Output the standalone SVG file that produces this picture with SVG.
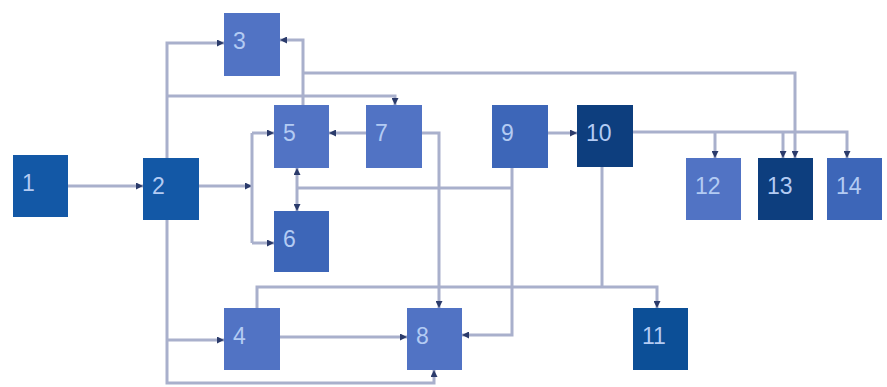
<svg xmlns="http://www.w3.org/2000/svg" width="887" height="387" viewBox="0 0 887 387">
<defs>
<marker id="ah" markerWidth="7" markerHeight="7" refX="7" refY="3.5" orient="auto" markerUnits="userSpaceOnUse">
<path d="M0,0 L7,3.5 L0,7 z" fill="#2b3b6b"/>
</marker>
<style>
.c{fill:none;stroke:#a9b0cc;stroke-width:3}
.a{marker-end:url(#ah)}
.n rect{stroke:none}
.n text{font-family:"Liberation Sans","Open Sans",Arial,sans-serif;font-size:23px;fill:#b3cbf3}
.d1{fill:#1358a6}
.d2{fill:#0d3e7e}
.d3{fill:#0c4f97}
.m{fill:#3d66b8}
.l{fill:#5173c4}
</style>
</defs>
<rect width="887" height="387" fill="#ffffff"/>
<g id="connectors">
<path class="c a" d="M67,186 H143"/>
<path class="c a" d="M167,158 V43 H224"/>
<path class="c a" d="M167,96 H395 V105"/>
<path class="c a" d="M303,105 V40 H280"/>
<path class="c a" d="M303,73 H795 V158"/>
<path class="c a" d="M199,186 H252"/>
<path class="c" d="M252,133 V243"/>
<path class="c a" d="M252,133 H274"/>
<path class="c a" d="M252,243 H274"/>
<path class="c a" d="M366,133 H329"/>
<path class="c a" d="M512,168 V335 H462"/>
<path class="c" d="M512,188 H297"/>
<path class="c a" d="M297,188 V168"/>
<path class="c a" d="M297,188 V211"/>
<path class="c a" d="M422,133 H439 V308"/>
<path class="c a" d="M548,133 H577"/>
<path class="c a" d="M633,132 H847 V158"/>
<path class="c a" d="M715,132 V158"/>
<path class="c a" d="M783,132 V158"/>
<path class="c" d="M602,167 V287"/>
<path class="c a" d="M257,308 V287 H657 V308"/>
<path class="c a" d="M167,220 V383 H434 V370"/>
<path class="c a" d="M167,340 H224"/>
<path class="c a" d="M280,337 H407"/>
</g>
<g id="n1" class="n"><rect class="d1" x="13" y="155" width="55" height="62"/><text x="22" y="191">1</text></g>
<g id="n2" class="n"><rect class="d1" x="143" y="158" width="56" height="62"/><text x="152" y="194">2</text></g>
<g id="n3" class="n"><rect class="l" x="224" y="13" width="56" height="63"/><text x="233" y="49">3</text></g>
<g id="n4" class="n"><rect class="l" x="224" y="308" width="56" height="62"/><text x="233" y="344">4</text></g>
<g id="n5" class="n"><rect class="l" x="274" y="105" width="55" height="63"/><text x="283" y="141">5</text></g>
<g id="n6" class="n"><rect class="m" x="274" y="211" width="55" height="61"/><text x="283" y="247">6</text></g>
<g id="n7" class="n"><rect class="l" x="366" y="105" width="56" height="63"/><text x="375" y="141">7</text></g>
<g id="n8" class="n"><rect class="l" x="407" y="308" width="55" height="62"/><text x="416" y="344">8</text></g>
<g id="n9" class="n"><rect class="m" x="492" y="105" width="56" height="63"/><text x="501" y="141">9</text></g>
<g id="n10" class="n"><rect class="d2" x="577" y="105" width="56" height="62"/><text x="586" y="141">10</text></g>
<g id="n11" class="n"><rect class="d3" x="633" y="308" width="55" height="62"/><text x="642" y="344">11</text></g>
<g id="n12" class="n"><rect class="l" x="686" y="158" width="55" height="62"/><text x="695" y="194">12</text></g>
<g id="n13" class="n"><rect class="d2" x="758" y="158" width="55" height="62"/><text x="767" y="194">13</text></g>
<g id="n14" class="n"><rect class="m" x="827" y="158" width="55" height="62"/><text x="836" y="194">14</text></g>
</svg>
